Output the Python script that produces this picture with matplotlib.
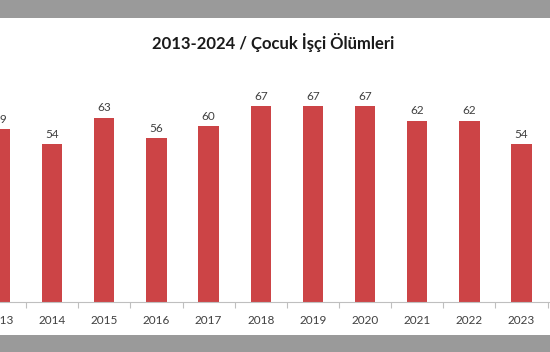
import numpy as np
import matplotlib
matplotlib.use("Agg")
import matplotlib.pyplot as plt
from matplotlib.patches import Rectangle

years = ["2013", "2014", "2015", "2016", "2017", "2018", "2019", "2020", "2021", "2022", "2023"]
deaths = [59, 54, 63, 56, 60, 67, 67, 67, 62, 62, 54]

plt.rcParams['font.family'] = ['Lato', 'DejaVu Sans']

fig = plt.figure(figsize=(5.5, 3.52), dpi=100)
fig.patch.set_facecolor('#9a9a9a')
# white chart area between the gray bands
fig.patches.append(Rectangle((0, 17 / 352), 1, 317 / 352,
                             transform=fig.transFigure, facecolor='white',
                             edgecolor='none', zorder=-5))

ax = fig.add_axes([0, 50 / 352, 1, 234 / 352])
ax.set_zorder(2)
ax.patch.set_alpha(0)
x = np.arange(len(years))
ax.bar(x, deaths, width=0.39, color='#cc4446', zorder=2)
for xi, v in zip(x, deaths):
    ax.text(xi, v + 1.5, str(v), ha='center', va='bottom', fontsize=8.5, color='#404040')

ax.set_xlim(0.108, 10.545)
ax.set_ylim(0, 80)
ax.set_xticks(x)
ax.set_xticklabels(years, fontsize=8.5, color='#404040')
ax.set_xticks(list(x + 0.5), minor=True)
ax.tick_params(axis='x', which='major', length=0, pad=9)
ax.tick_params(axis='x', which='minor', length=4, color='#bfbfbf', width=0.8)
ax.set_yticks([])
for s in ['top', 'right', 'left']:
    ax.spines[s].set_visible(False)
ax.spines['bottom'].set_color('#bfbfbf')
ax.spines['bottom'].set_linewidth(0.8)

fig.text(0.497, 1 - 42 / 352, "2013-2024 / Çocuk İşçi Ölümleri", ha='center', va='center',
         fontsize=12, fontweight='bold', color='#1a1a1a', zorder=3)

fig.savefig('out.png', dpi=100, facecolor=fig.get_facecolor())
